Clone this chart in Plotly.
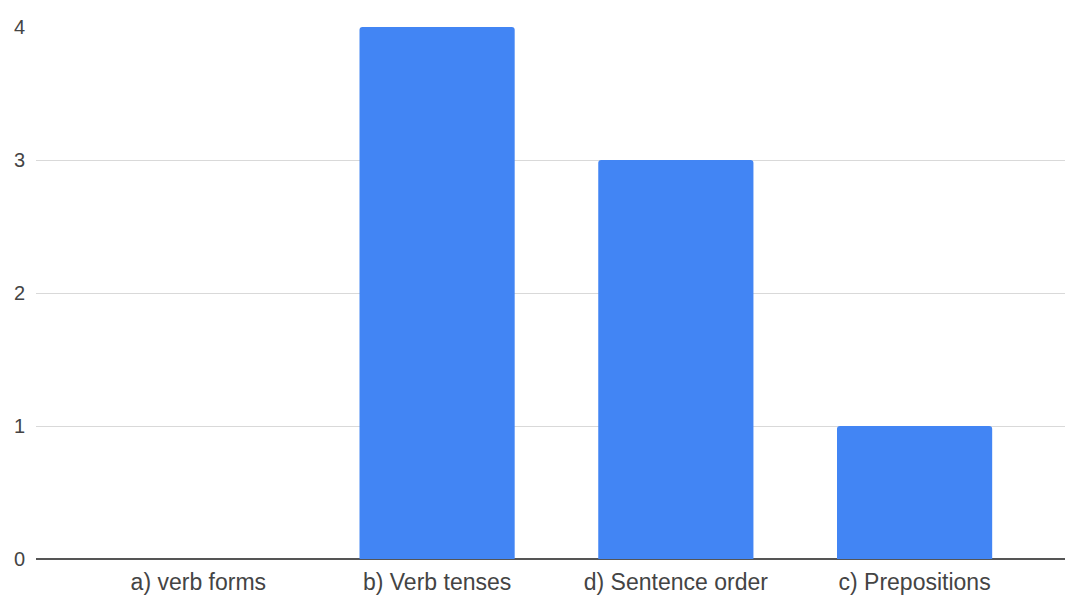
import plotly.graph_objects as go

categories = ["a) verb forms", "b) Verb tenses", "d) Sentence order", "c) Prepositions"]
values = [0, 4, 3, 1]
y_ticks = [0, 1, 2, 3, 4]

fig = go.Figure(go.Bar(
    x=list(range(len(categories))), y=values,
    marker=dict(color="#4285F4", line=dict(width=0), cornerradius=3),
    width=0.65,
))
fig.update_layout(
    width=1065, height=597,
    margin=dict(l=36, r=0, t=27, b=38),
    plot_bgcolor="white", paper_bgcolor="white",
    showlegend=False,
    font=dict(family="Liberation Sans, Arial", size=23, color="#444444"),
)
fig.update_xaxes(
    tickmode="array", tickvals=list(range(len(categories))), ticktext=categories,
    range=[-0.68, 3.63], showgrid=False, zeroline=False, showline=False,
    ticks="", ticklabelstandoff=7, tickfont=dict(size=23, color="#444444"),
)
fig.update_yaxes(
    range=[0, 4], tickvals=y_ticks, showgrid=True, gridcolor="#d9d9d9", gridwidth=1,
    zeroline=True, zerolinecolor="#555555", zerolinewidth=2,
    ticks="", ticklabelstandoff=10, tickfont=dict(size=20, color="#444444"),
)
fig.write_html("out.html")
